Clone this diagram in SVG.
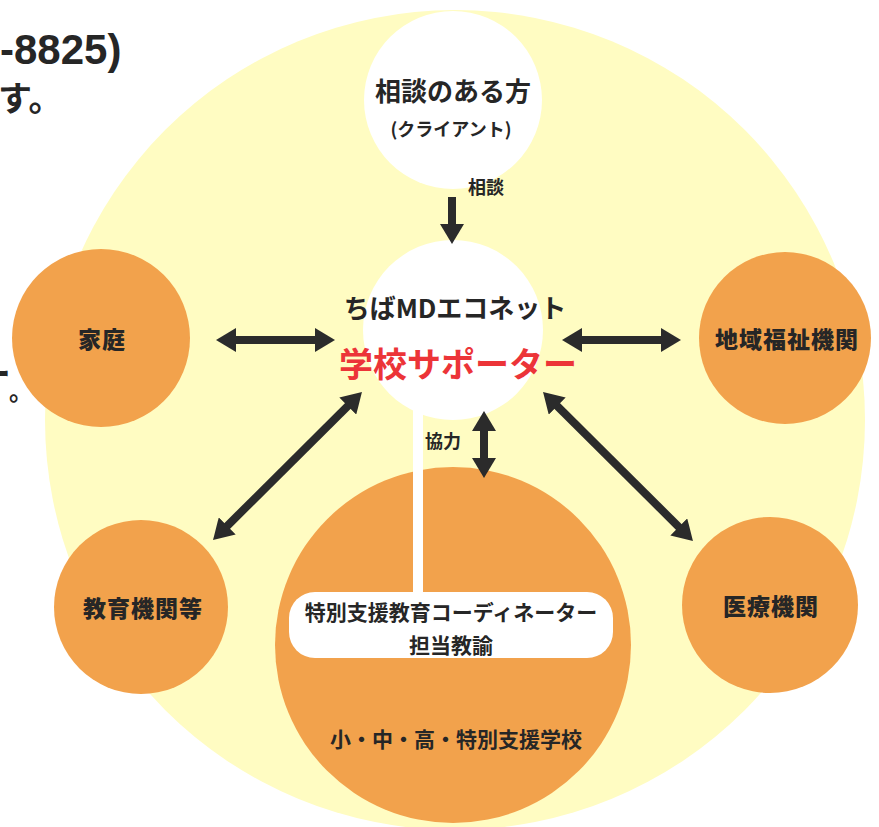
<svg xmlns="http://www.w3.org/2000/svg" width="879" height="827" viewBox="0 0 879 827">
<style>
text{font-family:"Noto Sans CJK JP","Noto Sans",sans-serif;font-weight:bold;fill:#262626;text-anchor:middle}
.org{fill:#f2a24c}
.wht{fill:#ffffff}
.lbl{font-size:23px;letter-spacing:1px;font-weight:900}
.arr{stroke:#2b2b2b;stroke-width:8;fill:none;marker-end:url(#ah);marker-start:url(#ah)}
.one{marker-start:none}
</style>
<defs>
<marker id="ah" markerUnits="userSpaceOnUse" markerWidth="20" markerHeight="24" viewBox="0 0 20 24" refX="2" refY="12" orient="auto-start-reverse">
<path d="M0,0 L20,12 L0,24 Z" fill="#2b2b2b"/>
</marker>
</defs>
<rect width="879" height="827" fill="#ffffff"/>
<text x="0" y="64" style="font-size:42px;text-anchor:start;font-family:'Liberation Sans','Noto Sans CJK JP',sans-serif">-8825)</text>
<text x="-2" y="111" style="font-size:34px;text-anchor:start">す。</text>
<text x="-18" y="385" style="font-size:28px;font-weight:900;text-anchor:start">ー</text>
<text x="9" y="400" style="font-size:24px;text-anchor:start">。</text>
<circle id="bg" cx="455" cy="420" r="410" fill="#fffcc2"/>
<g id="client">
<circle class="wht" cx="453" cy="100" r="89"/>
<text x="453" y="101" style="font-size:26px">相談のある方</text>
<text x="451" y="136" style="font-size:18px">(クライアント)</text>
</g>
<g id="school">
<circle class="org" cx="453" cy="645" r="178"/>
<text x="456" y="747" style="font-size:21px">小・中・高・特別支援学校</text>
</g>
<g id="center">
<circle class="wht" cx="453" cy="330" r="90"/>
<rect class="wht" x="413" y="400" width="10" height="200"/>
<text x="455" y="318" style="font-size:26px">ちばMDエコネット</text>
<text x="458" y="377" style="font-size:34px;fill:#ec3438">学校サポーター</text>
</g>
<g id="coordinator">
<rect class="wht" x="289" y="592" width="324" height="66" rx="26"/>
<text x="451" y="620" style="font-size:21px">特別支援教育コーディネーター</text>
<text x="451" y="653" style="font-size:21px">担当教諭</text>
</g>
<g id="family">
<circle class="org" cx="101" cy="338" r="89"/>
<text class="lbl" x="102" y="348">家庭</text>
</g>
<g id="welfare">
<circle class="org" cx="785" cy="338" r="86"/>
<text class="lbl" x="787" y="348">地域福祉機関</text>
</g>
<g id="education">
<circle class="org" cx="141" cy="607" r="87"/>
<text class="lbl" x="143" y="617">教育機関等</text>
</g>
<g id="medical">
<circle class="org" cx="770" cy="605" r="88"/>
<text class="lbl" x="771" y="615">医療機関</text>
</g>
<g id="connectors">
<line class="arr one" x1="452" y1="197" x2="452" y2="226"/>
<line class="arr" x1="234" y1="340" x2="317" y2="340"/>
<line class="arr" x1="580" y1="340" x2="663" y2="340"/>
<line class="arr" x1="349.2" y1="404.7" x2="225.8" y2="527.3"/>
<line class="arr" x1="555.8" y1="404.7" x2="680.2" y2="528.3"/>
<line class="arr" x1="484" y1="429" x2="484" y2="460"/>
<text x="486" y="194" style="font-size:18px">相談</text>
<text x="443" y="448" style="font-size:18px">協力</text>
</g>
</svg>
